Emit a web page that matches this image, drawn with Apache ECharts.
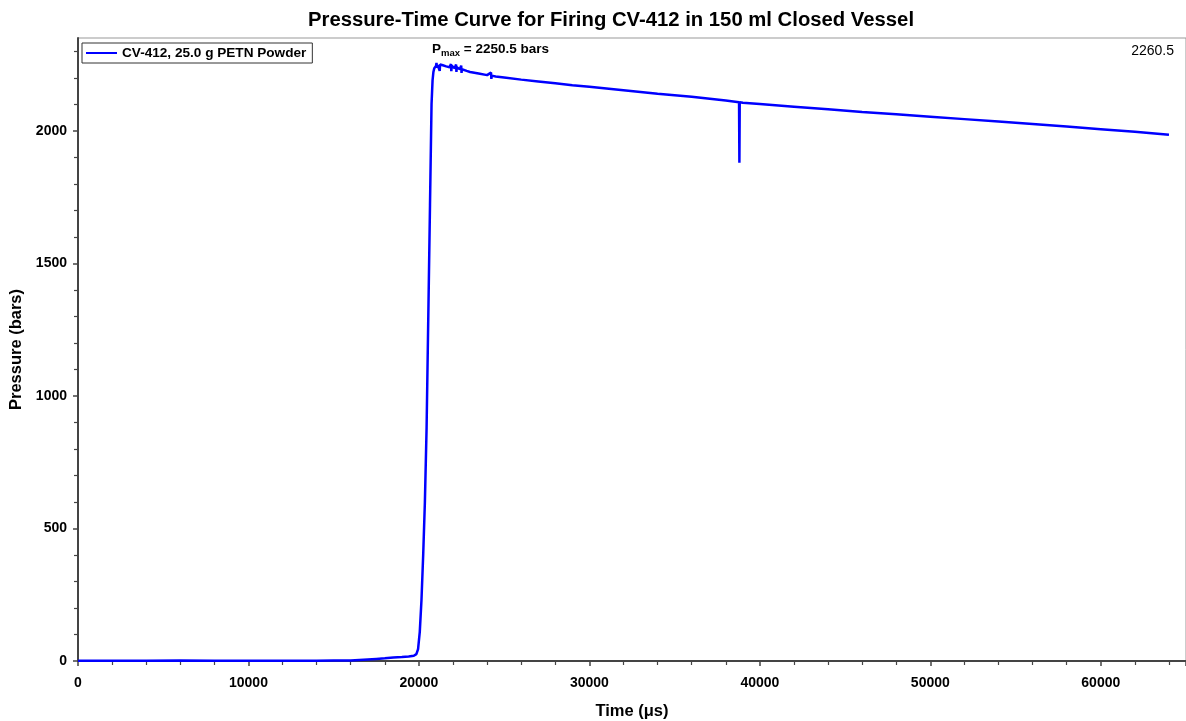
<!DOCTYPE html>
<html>
<head>
<meta charset="utf-8">
<script src="https://cdn.jsdelivr.net/npm/echarts@6/dist/echarts.min.js"></script>
<style>
html,body{margin:0;padding:0;background:#fff;}
#c{width:1186px;height:721px;}
</style>
</head>
<body>
<div id="c"></div>
<script>
const chartTitle = 'Pressure-Time Curve for Firing CV-412 in 150 ml Closed Vessel';
const seriesName = 'CV-412, 25.0 g PETN Powder';
const xName = 'Time (\u03bcs)';
const yName = 'Pressure (bars)';
const pmaxText = ' = 2250.5 bars';
const cornerText = '2260.5';
const yTickValues = [0, 500, 1000, 1500, 2000];

const timeUs = [0, 2000, 4000, 6000, 8000, 10000, 12000, 14000, 15000, 16000, 16500, 17000, 17500, 18000, 18500, 19000, 19400, 19700, 19850, 19950, 20050, 20150, 20250, 20350, 20450, 20550, 20650, 20740, 20800, 20850, 20900, 20950, 21000, 21030, 21060, 21100, 21150, 21200, 21220, 21240, 21300, 21400, 21500, 21600, 21700, 21800, 21880, 21900, 21920, 21950, 22000, 22100, 22180, 22200, 22220, 22300, 22400, 22480, 22500, 22520, 22600, 22800, 23000, 23500, 24000, 24230, 24250, 24270, 24500, 25000, 26000, 27000, 28000, 29000, 30000, 32000, 34000, 36000, 38000, 38780, 38800, 38820, 39000, 40000, 42000, 44000, 46000, 48000, 50000, 52000, 54000, 56000, 58000, 60000, 62000, 63000, 64000];
const pressureBar = [1, 1, 1, 2, 1, 1, 1, 1, 2, 2, 4, 6, 8, 10, 13, 15, 17, 20, 26, 45, 110, 230, 400, 600, 880, 1300, 1720, 2100, 2190, 2222, 2236, 2240, 2244, 2256, 2238, 2248, 2251, 2245, 2226, 2250, 2246, 2247, 2244, 2243, 2242, 2240, 2252, 2225, 2245, 2239, 2238, 2236, 2250, 2222, 2240, 2234, 2232, 2246, 2218, 2232, 2230, 2226, 2222, 2216, 2210, 2220, 2196, 2208, 2205, 2201, 2193, 2186, 2179, 2172, 2166, 2153, 2140, 2128, 2114, 2108, 1879, 2108, 2106, 2101, 2091, 2081, 2071, 2062, 2053, 2044, 2035, 2026, 2016, 2006, 1996, 1991, 1985];

const xMin = 0, xMax = 65000, xInterval = 10000;
const yMin = 0, yMax = 2350, yInterval = 500;

const data = timeUs.map((t, i) => [t, pressureBar[i]]);
const font = 'Arial, "Liberation Sans", sans-serif';

const chart = echarts.init(document.getElementById('c'), null, {renderer: 'canvas'});
chart.setOption({
  animation: false,
  backgroundColor: '#fff',
  title: {
    text: chartTitle,
    left: 606,
    textAlign: 'center',
    top: 5,
    textStyle: {fontFamily: font, fontWeight: 'bold', fontSize: 20.3, color: '#000'}
  },
  legend: {
    left: 82, top: 43,
    orient: 'vertical',
    borderColor: '#333', borderWidth: 1,
    padding: [3, 6, 3, 4],
    itemWidth: 31, itemHeight: 12, itemGap: 4,
    textStyle: {fontFamily: font, fontWeight: 'bold', fontSize: 13.6, color: '#000'},
    data: [{name: seriesName, icon: 'path://M0,0H31V2H0Z'}]
  },
  grid: {
    left: 78, right: 0, top: 38, bottom: 60,
    outerBoundsMode: 'none',
    containLabel: false,
    show: true, borderColor: '#999', borderWidth: 1, backgroundColor: 'transparent'
  },
  xAxis: {
    type: 'value', min: xMin, max: xMax, interval: xInterval,
    name: xName, nameLocation: 'middle', nameGap: 42,
    nameTextStyle: {fontFamily: font, fontWeight: 'bold', fontSize: 16.5, color: '#000'},
    axisLine: {show: true, onZero: false, lineStyle: {color: '#444', width: 2}},
    axisTick: {show: true, inside: false, length: 5, lineStyle: {color: '#444', width: 1.5}},
    minorTick: {show: true, splitNumber: 5, length: 4, lineStyle: {color: '#444', width: 1.2}},
    splitLine: {show: false},
    axisLabel: {
      fontFamily: font, fontWeight: 'bold', fontSize: 14, color: '#000', margin: 15,
      showMaxLabel: false,
      formatter: v => String(v)
    }
  },
  yAxis: {
    type: 'value', min: yMin, max: yMax, interval: yInterval,
    name: yName, nameLocation: 'middle', nameGap: 50, nameRotate: 90,
    nameTextStyle: {fontFamily: font, fontWeight: 'bold', fontSize: 16.5, color: '#000'},
    axisLine: {show: true, onZero: false, lineStyle: {color: '#444', width: 2}},
    axisTick: {show: true, inside: false, length: 5, customValues: yTickValues, lineStyle: {color: '#444', width: 1.5}},
    minorTick: {show: true, splitNumber: 5, length: 4, lineStyle: {color: '#444', width: 1.2}},
    splitLine: {show: false},
    axisLabel: {
      fontFamily: font, fontWeight: 'bold', fontSize: 14, color: '#000', margin: 11,
      customValues: yTickValues,
      formatter: v => String(v)
    }
  },
  graphic: [
    {
      type: 'text', left: 432, top: 42,
      style: {
        text: '{p|P}{s|max}{e|' + pmaxText + '}',
        rich: {
          p: {fontFamily: font, fontWeight: 'bold', fontSize: 13.5, fill: '#000'},
          s: {fontFamily: font, fontWeight: 'bold', fontSize: 9.5, fill: '#000', padding: [9, 0, 0, 0]},
          e: {fontFamily: font, fontWeight: 'bold', fontSize: 13.5, fill: '#000'}
        }
      }
    },
    {
      type: 'text', right: 12, top: 44,
      style: {text: cornerText, fontFamily: font, fontSize: 14, fill: '#000'}
    }
  ],
  series: [{
    name: seriesName,
    type: 'line',
    data: data,
    symbol: 'none',
    lineStyle: {color: '#0000ff', width: 2.5},
    itemStyle: {color: '#0000ff'}
  }]
});
</script>
</body>
</html>
